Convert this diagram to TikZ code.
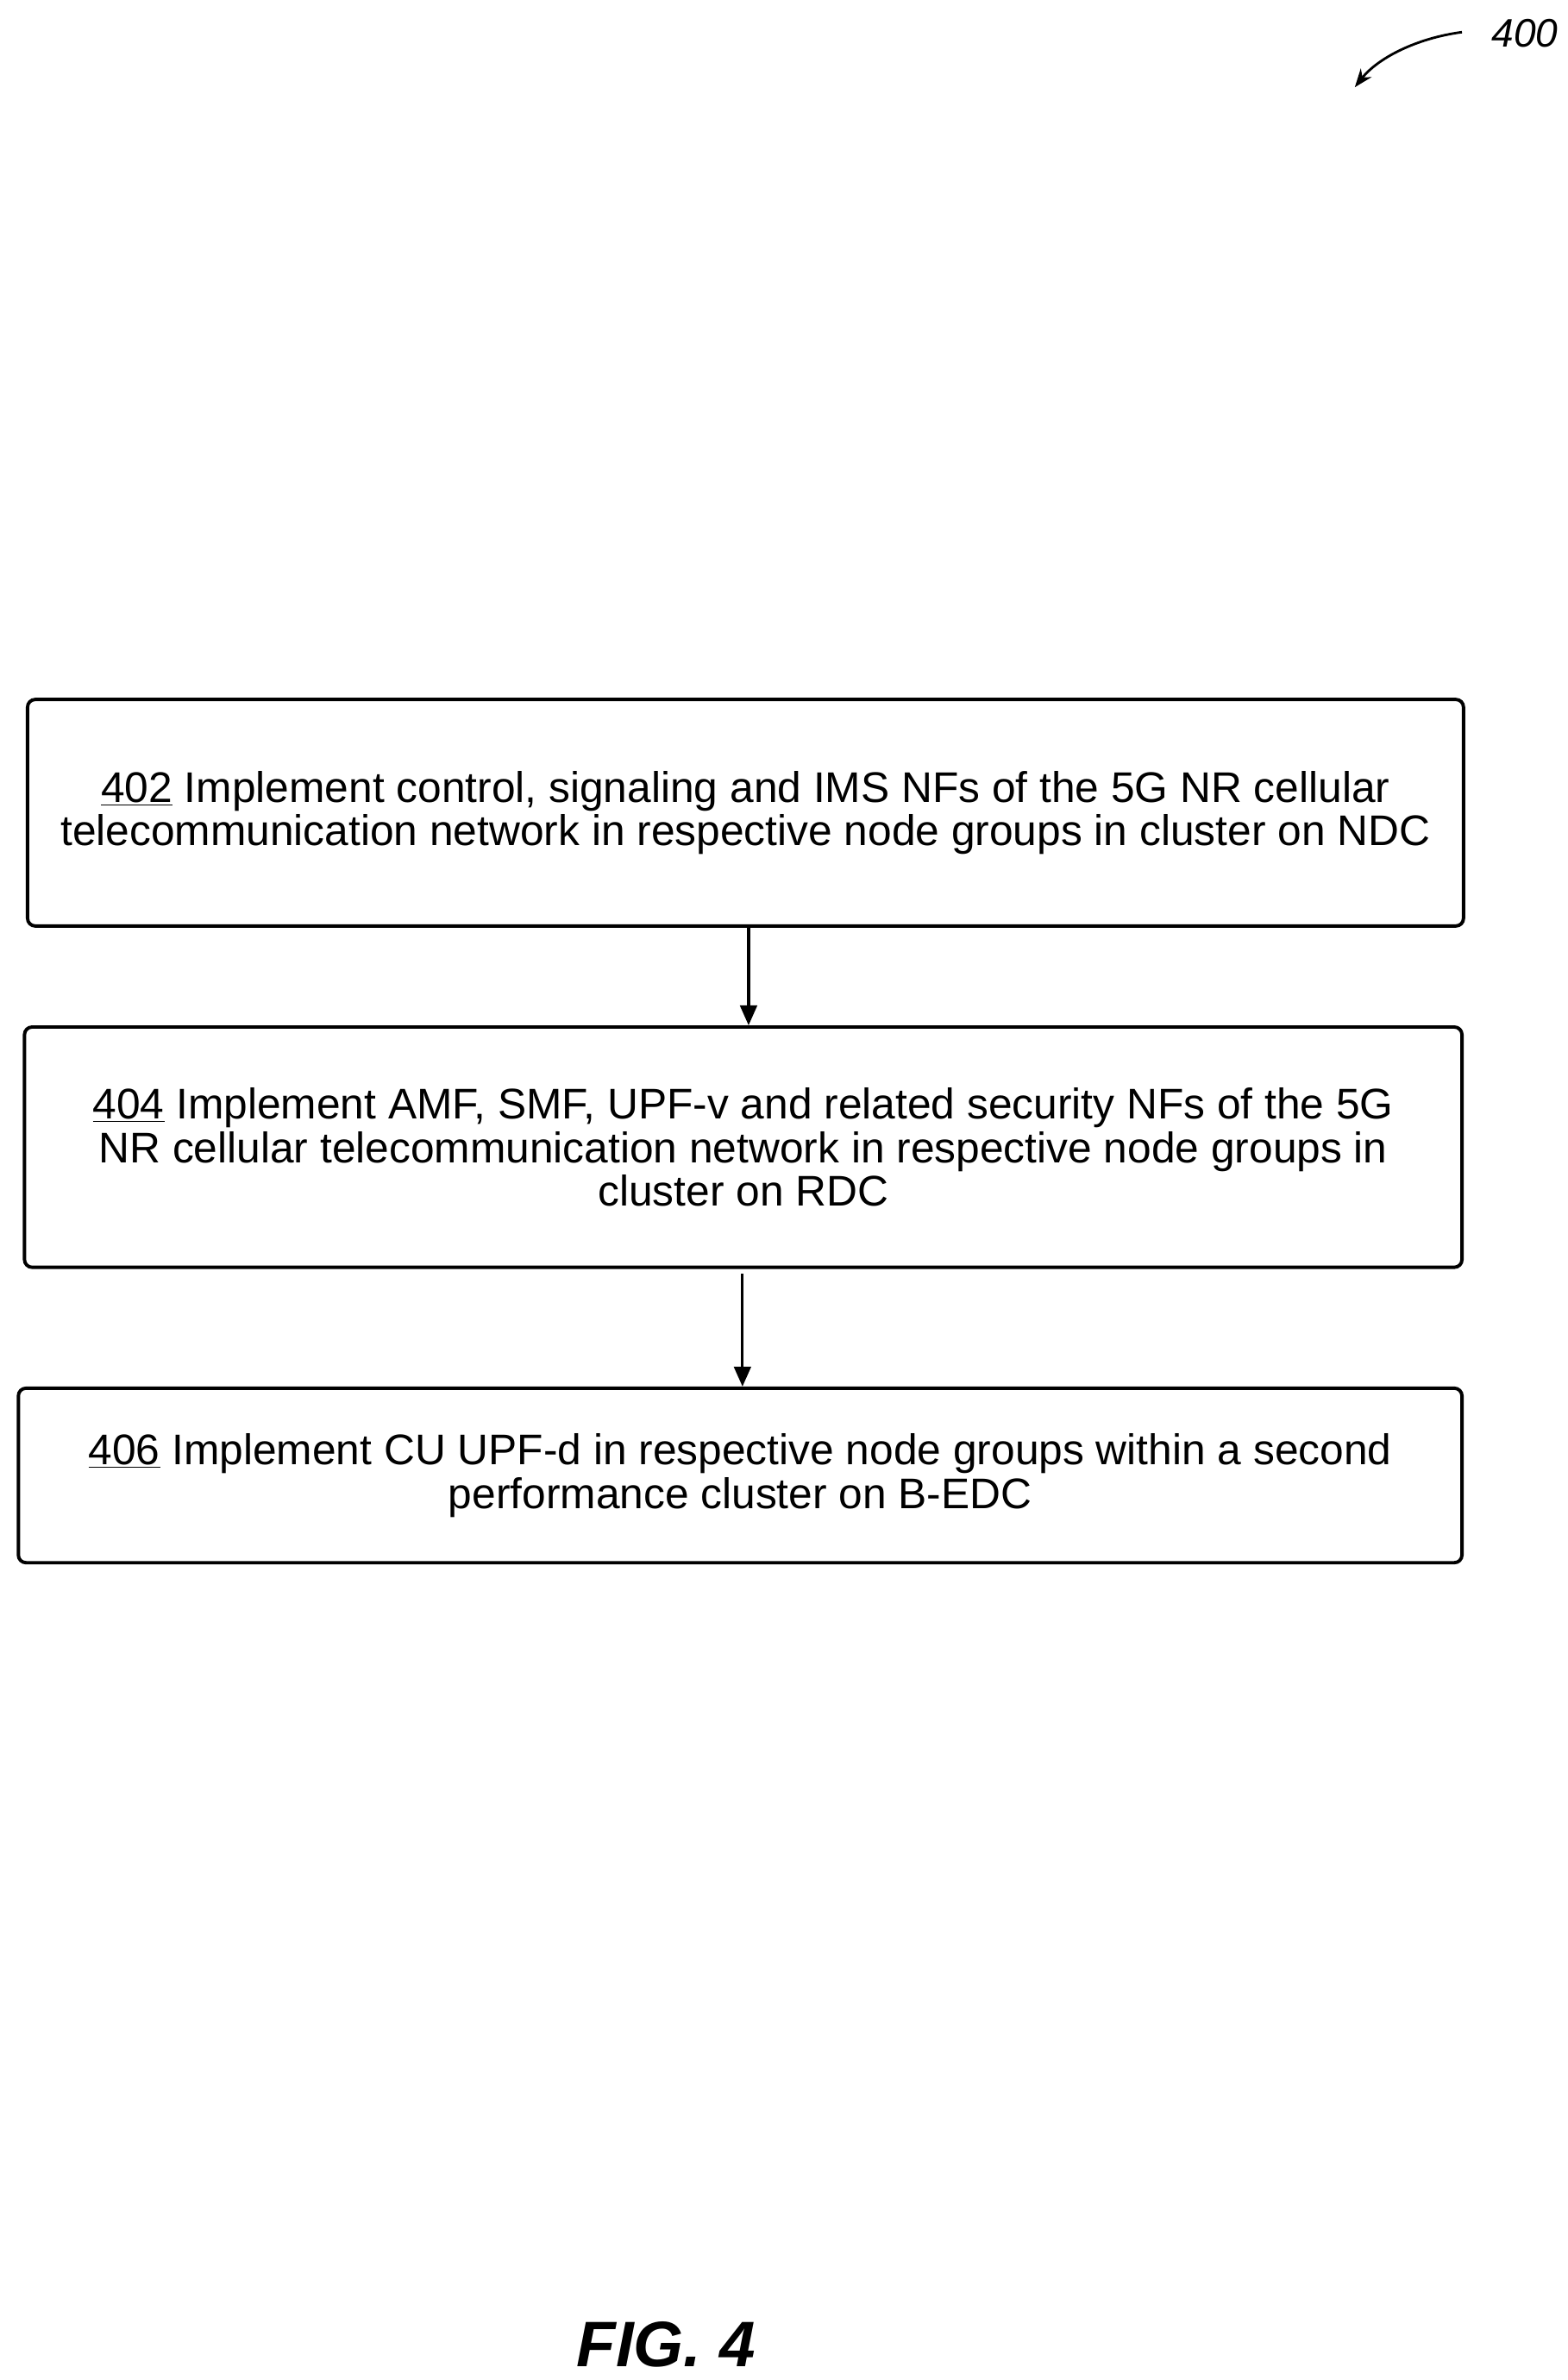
\documentclass[tikz,border=0pt]{standalone}
\usepackage{fontspec}
\setmainfont{Liberation Sans}
\usetikzlibrary{arrows.meta}
\begin{document}
\begin{tikzpicture}[x=1pt,y=-1pt,
  box/.style={draw,line width=2.2pt,rounded corners=5pt,font=\fontsize{28}{28.5}\selectfont,align=center,inner sep=0pt},
  arr/.style={-{Triangle[length=13pt,width=11pt]},line width=1.8pt}]
\useasboundingbox (0,0) rectangle (1024,1555);
\node[box,minimum width=938pt,minimum height=148pt] (b1) at (487,531) {\underline{402} Implement control, signaling and IMS NFs of the 5G NR cellular\\telecommunication network in respective node groups in cluster on NDC};
\node[box,minimum width=939pt,minimum height=157pt] (b2) at (485.5,749.5) {\underline{404} Implement AMF, SMF, UPF-v and related security NFs of the 5G\\NR cellular telecommunication network in respective node groups in\\cluster on RDC};
\node[box,minimum width=943pt,minimum height=114pt] (b3) at (483.5,964) {\underline{406} Implement CU UPF-d in respective node groups within a second\\performance cluster on B-EDC};
\draw[arr] (b1.south -| 489,0) -- (b2.north -| 489,0);
\draw[arr] (485,832) coordinate (c1) -- (b3.north -| 485,0);
\node[font=\fontsize{26}{28}\selectfont\itshape] (n400) at (996,22) {400};
\coordinate (e400) at (885,57);
\draw[-{Stealth[length=12pt,width=9pt]},line width=1.6pt] (955,21) .. controls (925,25) and (900,38) .. (e400);
\node[font=\fontsize{42}{48}\selectfont\bfseries\itshape] (fig) at (435,1532) {FIG. 4};
\end{tikzpicture}
\end{document}
